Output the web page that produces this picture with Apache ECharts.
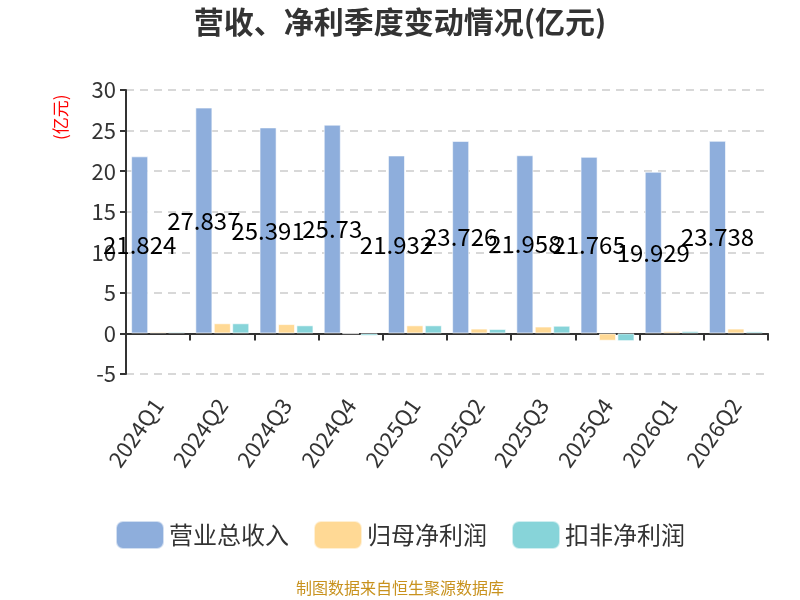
<!DOCTYPE html>
<html>
<head>
<meta charset="utf-8">
<script src="https://cdn.jsdelivr.net/npm/echarts@6/dist/echarts.min.js"></script>
<style>
    html, body { margin: 0; padding: 0; background: #fff; }
    #main { width: 800px; height: 600px; }
</style>
</head>
<body>
<div id="main"></div>
<script>
var quarters = ['2024Q1', '2024Q2', '2024Q3', '2024Q4', '2025Q1', '2025Q2', '2025Q3', '2025Q4', '2026Q1', '2026Q2'];
var revenue = [21.824, 27.837, 25.391, 25.73, 21.932, 23.726, 21.958, 21.765, 19.929, 23.738];
var netProfit = [0.2, 1.25, 1.15, -0.05, 1.0, 0.6, 0.85, -0.9, 0.28, 0.6];
var deductedProfit = [0.2, 1.25, 1.0, -0.3, 1.0, 0.55, 0.95, -0.95, 0.3, 0.25];
var yTicks = { min: -5, max: 30, interval: 5 };

var font = '"Noto Sans CJK SC", "Noto Sans", sans-serif';
var barBorder = { borderColor: 'rgba(255,255,255,0.6)', borderWidth: 1 };

var chart = echarts.init(document.getElementById('main'));
var option = {
    textStyle: { fontFamily: font },
    title: {
        text: '营收、净利季度变动情况(亿元)',
        left: 'center',
        top: 2,
        textStyle: { fontSize: 30, fontWeight: 'bold', color: '#333', fontFamily: font }
    },
    legend: {
        bottom: 45,
        left: 'center',
        itemWidth: 48,
        itemHeight: 28,
        itemGap: 24,
        icon: 'roundRect',
        textStyle: { fontSize: 24, color: '#333', fontFamily: font },
        data: ['营业总收入', '归母净利润', '扣非净利润']
    },
    graphic: [{
        type: 'text',
        left: 'center',
        top: 580,
        style: { text: '制图数据来自恒生聚源数据库', fill: '#c8921e', fontSize: 16, fontFamily: font }
    }, {
        type: 'text',
        x: 52,
        y: 140,
        rotation: Math.PI / 2,
        style: { text: '(亿元)', fill: '#ff0000', fontSize: 17, fontFamily: font }
    }],
    grid: { left: 126, right: 32, top: 90, bottom: 226 },
    xAxis: {
        type: 'category',
        data: quarters,
        axisLine: { onZero: true, lineStyle: { color: '#333', width: 2 } },
        axisTick: { show: true, length: 7, lineStyle: { width: 2 } },
        axisLabel: { rotate: 55, margin: 27, fontSize: 22, color: '#333', fontFamily: font }
    },
    yAxis: {
        type: 'value',
        min: yTicks.min,
        max: yTicks.max,
        interval: yTicks.interval,
        axisLine: { show: true, lineStyle: { color: '#333', width: 2 } },
        axisTick: { show: true, length: 6, lineStyle: { width: 2 } },
        axisLabel: { fontSize: 22, color: '#333', margin: 10, fontFamily: font },
        splitLine: { lineStyle: { type: [8, 6], color: '#ccc', width: 1.5 } }
    },
    series: [{
        name: '营业总收入',
        type: 'bar',
        data: revenue,
        barGap: '8%',
        barCategoryGap: '16%',
        itemStyle: Object.assign({ color: '#8eaedc' }, barBorder),
        z: 2,
        label: {
            show: true,
            position: 'inside',
            color: '#000',
            fontSize: 24,
            fontFamily: font
        },
        labelLayout: { hideOverlap: false }
    }, {
        name: '归母净利润',
        type: 'bar',
        data: netProfit,
        itemStyle: Object.assign({ color: '#ffd995' }, barBorder)
    }, {
        name: '扣非净利润',
        type: 'bar',
        data: deductedProfit,
        itemStyle: Object.assign({ color: '#87d4d9' }, barBorder)
    }],
    animation: false
};
chart.setOption(option);
</script>
</body>
</html>
